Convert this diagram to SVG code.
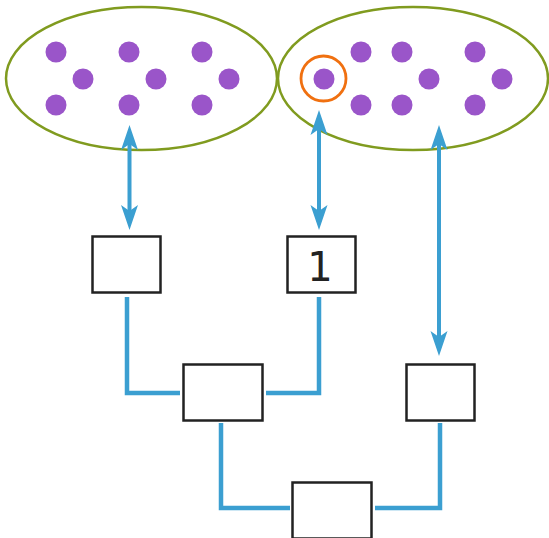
<svg xmlns="http://www.w3.org/2000/svg" width="549" height="538" viewBox="0 0 549 538">
<style>
.set{fill:none;stroke:#809b1f;stroke-width:2.5}
.dot{fill:#9a55c9}
.box{fill:#fff;stroke:#222;stroke-width:2.5}
.link{fill:none;stroke:#3b9fd1;stroke-width:4.5}
.arr{fill:none;stroke:#3b9fd1;stroke-width:4}
.lbl{font-family:"DejaVu Sans",Verdana,sans-serif;font-size:40px;fill:#222}
</style>
<defs>
<marker id="ah" markerUnits="userSpaceOnUse" orient="auto-start-reverse" refX="0" refY="0" markerWidth="30" markerHeight="20" viewBox="-12 -10 30 20" overflow="visible">
<path d="M15,0 L-10,-8.5 L-4,0 L-10,8.5 Z" fill="#3b9fd1"/>
</marker>
</defs>
<g id="setA">
<ellipse class="set" cx="141.5" cy="78.5" rx="135.5" ry="71.5"/>
<circle class="dot" cx="56" cy="52" r="10.5"/>
<circle class="dot" cx="129" cy="52" r="10.5"/>
<circle class="dot" cx="202" cy="52" r="10.5"/>
<circle class="dot" cx="83" cy="79" r="10.5"/>
<circle class="dot" cx="156" cy="79" r="10.5"/>
<circle class="dot" cx="229" cy="79" r="10.5"/>
<circle class="dot" cx="56" cy="105" r="10.5"/>
<circle class="dot" cx="129" cy="105" r="10.5"/>
<circle class="dot" cx="202" cy="105" r="10.5"/>
</g>
<g id="setB">
<ellipse class="set" cx="413" cy="78.5" rx="135" ry="71.5"/>
<circle class="dot" cx="361" cy="52" r="10.5"/>
<circle class="dot" cx="402" cy="52" r="10.5"/>
<circle class="dot" cx="475" cy="52" r="10.5"/>
<circle class="dot" cx="324" cy="79" r="10.5"/>
<circle class="dot" cx="429" cy="79" r="10.5"/>
<circle class="dot" cx="502" cy="79" r="10.5"/>
<circle class="dot" cx="361" cy="105" r="10.5"/>
<circle class="dot" cx="402" cy="105" r="10.5"/>
<circle class="dot" cx="475" cy="105" r="10.5"/>
<circle cx="323.5" cy="78.5" r="22.5" fill="none" stroke="#f07010" stroke-width="2.8"/>
</g>
<g id="connectors">
<path class="arr" d="M129.5,140 L129.5,215" marker-start="url(#ah)" marker-end="url(#ah)"/>
<path class="arr" d="M319,125 L319,215" marker-start="url(#ah)" marker-end="url(#ah)"/>
<path class="arr" d="M439,140 L439,341" marker-start="url(#ah)" marker-end="url(#ah)"/>
<path class="link" d="M127,297 L127,393 L180,393"/>
<path class="link" d="M319,297 L319,393 L266,393"/>
<path class="link" d="M221,423 L221,508 L290,508"/>
<path class="link" d="M440,423 L440,508 L375,508"/>
</g>
<g id="box1"><rect class="box" x="92.5" y="236.5" width="68" height="56"/></g>
<g id="box2"><rect class="box" x="287.5" y="236.5" width="68" height="56"/><text class="lbl" x="320" y="280.5" text-anchor="middle">1</text></g>
<g id="box3"><rect class="box" x="183.5" y="364.5" width="79" height="56"/></g>
<g id="box4"><rect class="box" x="406.5" y="364.5" width="68" height="56"/></g>
<g id="box5"><rect class="box" x="292.5" y="482.5" width="79" height="56"/></g>
</svg>
